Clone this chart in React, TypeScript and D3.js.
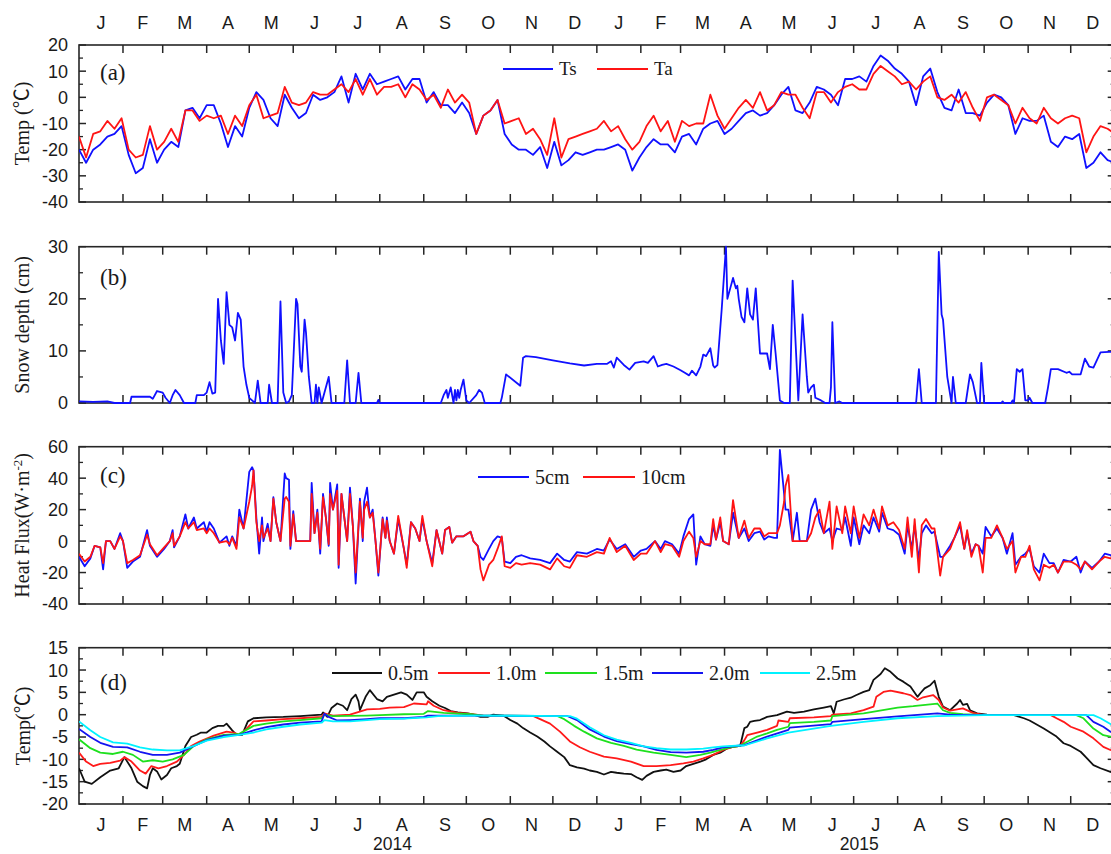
import React from 'react';
import * as d3 from 'd3';

// ---------- data ----------
// (a) daily surface (Ts) and air (Ta) temperature, sampled every 5 days from 1 Jan 2014
const tempStep = 5;
const tsValues = [
  -20, -25, -20, -18, -15, -14, -11, -22, -29, -27,
  -16, -25, -20, -17, -19, -5, -4, -8, -3, -3,
  -10, -19, -11, -15, -4, 2, -1, -8, -11, 1,
  -4, -8, -6, 1, -1, 0, 2, 8, -2, 9,
  3, 9, 5, 6, 7, 8, 3, 7, 7, -2,
  2, -3, -3, -6, -2, -6, -14, -7, -5, -1,
  -14, -18, -20, -20, -22, -19, -27, -17, -26, -24,
  -21, -22, -21, -20, -20, -19, -18, -20, -28, -23,
  -19, -16, -18, -18, -21, -15, -14, -18, -12, -10,
  -9, -14, -12, -9, -6, -5, -7, -6, -3, 1,
  4, -5, -6, -2, 4, 3, 1, -3, 7, 7,
  8, 6, 12, 16, 14, 11, 9, 6, -3, 8,
  11, 2, -4, -5, 3, -6, -6, -7, -2, 1,
  0, -3, -14, -8, -9, -9, -7, -17, -19, -15,
  -16, -14, -27, -25, -21, -24, -25,
];
const taValues = [
  -15, -23, -14, -13, -9, -12, -8, -20, -23, -22,
  -11, -20, -17, -12, -17, -5, -5, -9, -7, -8,
  -7, -14, -7, -11, -3, 1, -8, -7, -6, 4,
  -2, -3, -2, 2, 1, 1, 3, 5, 2, 7,
  1, 7, 1, 4, 4, 5, 0, 5, 3, -1,
  1, -4, 3, -2, 1, -2, -14, -7, -5, -1,
  -10, -9, -8, -14, -12, -16, -22, -8, -23, -16,
  -15, -14, -13, -12, -9, -13, -11, -16, -20, -17,
  -11, -7, -13, -9, -17, -9, -11, -10, -10, 1,
  -7, -12, -8, -4, -1, -4, 2, -5, -3, 2,
  1, 1, -4, -8, 2, 2, -2, 2, 4, 5,
  3, 3, 9, 12, 10, 8, 5, 6, 3, 6,
  8, 0, -1, 1, -2, 2, -4, -9, 0, 1,
  -1, -3, -10, -4, -8, -10, -4, -8, -10, -8,
  -7, -8, -21, -15, -11, -12, -14,
];

// (b) snow depth (cm): [day since 1 Jan 2014, depth]
const snowDepth: [number, number][] = [
  [0, 0.3], [10, 0.2], [20, 0.3], [25, 0], [36, 0], [37, 1.2], [45, 1.2], [50, 1.2], [52, 0.8], [55, 2.3],
  [59, 2], [61, 1], [64, 0], [66, 1.5], [68, 2.5], [71, 1.5], [74, 0], [82, 0], [83, 1.5], [88, 1.5],
  [90, 2], [92, 4], [94, 1.8], [96, 2], [98, 20], [100, 12], [102, 7.5], [104, 21.3], [106, 15], [108, 14.5],
  [110, 12], [112, 17.3], [114, 16], [116, 7], [118, 3.5], [120, 1], [122, 0.5], [124, 0], [126, 4.3], [128, 0],
  [133, 0], [134, 3.5], [136, 0], [140, 0], [142, 19.5], [144, 2], [146, 0], [148, 0.3], [150, 1.5], [153, 20],
  [154, 19], [156, 7], [157, 6], [159, 16], [160, 13.5], [162, 5], [164, 0], [166, 0], [167, 3.5], [168, 0],
  [169, 3], [171, 0], [176, 5], [178, 0], [187, 0], [189, 8.2], [191, 0], [195, 0], [197, 5.8], [199, 0],
  [210, 0], [211, 0.6], [212, 0], [255, 0], [257, 1.5], [259, 2.5], [260, 1], [262, 3], [264, 0], [265, 2.5],
  [266, 0.5], [267, 2.5], [268, 1], [269, 2.5], [271, 4.5], [273, 0.5], [275, 0], [280, 1.5], [282, 2.5], [284, 2],
  [286, 0], [297, 0], [298, 1], [301, 5.5], [311, 3.3], [313, 8.7], [315, 9], [322, 8.8], [334, 8.2], [346, 7.6],
  [356, 7.2], [365, 7.5], [372, 7.5], [375, 8], [377, 6.8], [379, 8.7], [384, 7.3], [388, 6.4], [392, 7.7], [398, 8],
  [401, 7.7], [405, 9], [408, 7], [411, 7.3], [414, 7.5], [419, 7], [424, 6.3], [427, 5.8], [430, 5.3], [432, 6.2],
  [435, 5.3], [438, 7], [440, 9.3], [442, 9], [445, 10.5], [447, 7.2], [448, 6.8], [450, 7.3], [453, 18], [456, 30],
  [457, 20], [459, 22], [461, 24], [462, 23], [463, 22], [464, 22.5], [465, 20], [467, 16.5], [469, 15.5], [471, 22],
  [473, 17], [475, 16], [477, 22], [480, 9.5], [483, 9.5], [485, 9.5], [487, 6.5], [489, 15], [491, 9.5], [494, 0.5],
  [497, 0], [501, 0], [503, 23.5], [507, 0.5], [510, 17], [513, 5], [514, 2], [516, 3], [518, 3.5], [519, 1],
  [523, 0.5], [526, 0], [529, 0], [530, 3], [531, 15.5], [533, 0], [536, 0.3], [538, 0], [590, 0], [592, 6.5],
  [594, 0], [604, 0], [606, 29], [608, 17], [609, 16], [612, 5], [615, 0], [616, 5], [618, 0], [625, 0],
  [628, 5.5], [630, 4], [633, 0], [635, 0], [636, 7.7], [638, 0], [650, 0], [651, 0.3], [652, 0], [657, 0],
  [658, 0.5], [659, 0], [661, 6.5], [663, 6], [665, 6.5], [667, 0.5], [669, 0.5], [670, 1], [672, 0], [681, 0],
  [683, 3], [685, 6.5], [690, 6.5], [696, 5.8], [698, 6], [700, 5.5], [706, 5.5], [709, 8.5], [712, 7], [715, 6.8],
  [720, 9.7], [726, 9.8], [730, 9.8],
];

// (c) soil heat flux (W·m-2) at 5 cm and 10 cm
const fluxDays = [
  0, 4, 8, 11, 15, 17, 19, 22, 25, 29, 31, 34, 38, 43, 48, 50, 55, 60, 64, 66,
  67, 71, 75, 77, 81, 83, 88, 90, 92, 95, 99, 104, 106, 108, 111, 113, 116, 120, 122, 123,
  125, 127, 129, 130, 133, 135, 137, 139, 142, 145, 146, 148, 149, 151, 153, 163, 164, 166, 168, 170,
  172, 174, 176, 177, 179, 182, 183, 185, 189, 191, 193, 195, 198, 200, 201, 203, 205, 207, 209, 211,
  214, 216, 217, 219, 222, 225, 229, 231, 234, 237, 240, 242, 245, 249, 252, 256, 258, 261, 263, 266,
  271, 276, 278, 281, 283, 285, 289, 292, 295, 298, 300, 304, 308, 312, 318, 325, 332, 337, 342, 346,
  351, 358, 365, 370, 374, 379, 385, 391, 396, 400, 406, 410, 413, 418, 423, 426, 430, 433, 435, 438,
  441, 445, 447, 449, 452, 454, 458, 461, 465, 469, 472, 476, 480, 483, 486, 490, 492, 494, 497, 498,
  500, 503, 506, 508, 513, 516, 519, 522, 525, 529, 531, 534, 538, 540, 544, 546, 550, 553, 557, 560,
  564, 566, 570, 574, 578, 582, 584, 587, 589, 592, 594, 597, 601, 603, 607, 609, 614, 617, 621, 624,
  626, 629, 632, 634, 637, 639, 643, 647, 651, 654, 658, 660, 664, 667, 670, 673, 677, 680, 684, 687,
  690, 694, 699, 703, 706, 709, 714, 719, 723, 727, 730,
];
const flux5cm = [
  -10, -16, -11, -3, -4, -18, 0, 0, -5, 5, 0, -17, -13, -10, 7, -3, -10, -5, 0, 7,
  -4, 3, 17, 8, 15, 8, 12, 6, 12, 8, -1, 3, -3, 3, -3, 20, 8, 44, 47, 45,
  15, -8, 15, 0, 11, 0, 28, 12, 0, 43, 40, 39, -5, 19, 0, 0, 37, 5, 20, -8,
  30, 15, -3, 37, 20, 36, -17, 30, 0, 34, 10, -27, 27, 0, 25, 34, 15, 20, 0, -22,
  15, 2, 15, 0, -8, 14, -5, -15, 12, 8, 0, 14, 0, -14, 7, -8, 7, 9, -1, 3,
  3, 6, 0, -3, -10, -12, -5, 0, 3, 2, -13, -14, -10, -9, -11, -12, -14, -8, -12, -13,
  -7, -8, -5, -6, 1, -5, -2, -10, -6, -5, 0, -5, 0, -2, -8, 3, 14, 17, -15, 3,
  -2, -3, 10, 1, 12, 0, -2, 18, 2, 8, 0, 5, 6, 1, 3, 2, 2, 58, 30, 20,
  20, 0, 18, 0, 0, 20, 27, 12, 5, 8, 0, 8, 7, 15, -3, 15, -2, 10, 5, 15,
  6, 18, 8, 7, 4, -8, 10, -5, 10, -12, 5, 10, 5, 6, -10, -10, -3, 2, 10, -5,
  5, -8, -2, -3, -8, 9, 3, 8, 2, -8, 5, -15, -10, -8, -5, -16, -20, -8, -14, -14,
  -20, -12, -13, -10, -20, -13, -17, -13, -8, -9, -9,
];
const flux10cm = [
  -8, -13, -10, -3, -4, -14, 0, 0, -5, 3, 0, -14, -12, -9, 4, -2, -9, -4, 0, 5,
  -3, 3, 12, 8, 12, 7, 8, 5, 8, 5, -1, 0, -2, 2, -5, 15, 8, 25, 35, 45,
  12, 0, 10, 2, 8, 0, 27, 12, 0, 27, 28, 25, -3, 17, 0, 0, 30, 5, 18, -5,
  28, 15, -2, 30, 20, 32, -15, 30, 0, 30, 10, -20, 25, 2, 20, 25, 15, 18, 0, -20,
  14, 2, 13, 0, -8, 16, -5, -17, 12, 8, 0, 16, 0, -16, 7, -8, 7, 9, -1, 3,
  3, 6, 0, -3, -18, -25, -15, -12, -5, 3, -16, -17, -14, -15, -14, -15, -18, -11, -16, -17,
  -9, -10, -7, -8, 2, -7, -3, -12, -8, -8, 0, -7, -2, -3, -10, 0, 6, 2, -10, 0,
  -2, -2, 14, 1, 15, 0, -2, 26, 2, 13, 2, 8, 8, 3, 5, 5, 5, 10, 25, 35,
  42, 0, 0, 0, 0, 5, 15, 20, 5, 25, -5, 22, 5, 22, 5, 22, 2, 17, 10, 20,
  8, 22, 10, 12, 7, -5, 15, -10, 14, -20, 10, 14, 8, 8, -22, -10, -5, 2, 12, -5,
  7, -10, -2, -3, -20, 2, 2, 10, 2, -5, 0, -20, -10, -10, -3, -18, -25, -15, -17, -15,
  -20, -13, -13, -15, -18, -13, -18, -13, -10, -11, -10,
];

// (d) soil temperature at depth: [day since 1 Jan 2014, °C]
const soil05m: [number, number][] = [
  [0, -12], [4, -15], [9, -15.5], [15, -14], [22, -12.5], [28, -12], [32, -9.5], [37, -12], [41, -15], [45, -16],
  [48, -16.5], [50, -13.5], [52, -12], [55, -12.7], [58, -14.5], [62, -13.5], [65, -12], [69, -11.5], [71, -11], [75, -7],
  [79, -5], [83, -4.5], [86, -4], [90, -4], [94, -3], [98, -2.5], [102, -2.5], [104, -2], [108, -3.5], [111, -4.5],
  [115, -4.5], [117, -3], [119, -1.5], [123, -0.8], [132, -0.6], [144, -0.5], [156, -0.3], [171, 0], [172, 0.5], [175, -0.5],
  [178, 1.5], [182, 2.5], [186, 2], [189, 1], [192, 3.5], [195, 4.5], [197, 3], [198, 1], [202, 4], [205, 5.5],
  [210, 3.5], [214, 3], [217, 4], [222, 4.5], [227, 5], [231, 4.5], [235, 3.3], [238, 5], [243, 5], [245, 4],
  [249, 3], [254, 2], [258, 1.5], [262, 0.8], [267, 0.5], [274, 0.3], [278, 0], [283, -0.5], [288, -0.5], [292, 0],
  [299, -0.2], [304, -1.2], [309, -2], [313, -3], [318, -4], [323, -4.9], [328, -6], [332, -7.1], [337, -8.3], [342, -9.5],
  [346, -11.3], [351, -11.8], [356, -12.1], [360, -12.5], [365, -12.8], [370, -13.4], [375, -12.8], [379, -13], [384, -13.2], [389, -13.3],
  [393, -14], [397, -14.6], [400, -13.7], [405, -12.8], [410, -12.5], [414, -12.3], [419, -12.8], [424, -12.5], [428, -11.5], [433, -11],
  [438, -10.5], [442, -10], [447, -9], [452, -8.5], [457, -7.5], [461, -7.2], [466, -7], [469, -3], [471, -2.7], [473, -1.6],
  [476, -1.4], [480, -1.2], [485, -0.5], [492, -0.1], [499, 0.7], [504, 0.4], [511, 0.7], [518, 1.2], [525, 1.6], [530, 1.9],
  [532, 0.3], [534, 2.9], [539, 3.4], [544, 3.8], [548, 4.4], [553, 5.1], [557, 5.5], [560, 7.8], [565, 9.1], [568, 10.4],
  [572, 9.6], [577, 8.1], [581, 7.4], [586, 6.3], [591, 4], [593, 4.8], [596, 5.9], [600, 6.6], [603, 7.6], [606, 4],
  [609, 1.8], [614, 1], [619, 2.5], [621, 3.3], [623, 2.2], [626, 2.4], [628, 1], [633, 0.3], [640, 0], [659, -0.1],
  [666, -0.8], [670, -1.3], [680, -3.1], [689, -4.9], [694, -6.4], [699, -7], [706, -8.3], [710, -9.6], [715, -11.3], [720, -12],
  [727, -12.8], [730, -13],
];
const soil10m: [number, number][] = [
  [0, -8.5], [5, -10.5], [10, -11.5], [15, -11], [22, -10.8], [29, -10.3], [32, -9.5], [37, -10.5], [43, -12.5], [47, -13.2],
  [51, -11.5], [56, -12], [62, -11.5], [69, -10.5], [74, -9], [79, -7], [85, -6], [95, -4.7], [104, -3.8], [109, -4],
  [113, -4.5], [117, -3.5], [123, -1.5], [132, -1.3], [144, -1], [156, -0.8], [171, -0.5], [173, 0.3], [179, -0.2], [191, 0],
  [203, 1.2], [212, 1.3], [219, 1.6], [229, 1.7], [236, 2.5], [245, 2.3], [246, 3], [250, 2], [257, 1], [267, 0.4],
  [276, 0.2], [285, -0.2], [320, -0.3], [325, -1], [332, -2], [339, -3.8], [346, -6], [353, -7.3], [360, -8.3], [370, -9.4],
  [379, -9.8], [389, -10.5], [398, -11.5], [407, -11.5], [417, -11.3], [426, -10.9], [433, -10.5], [440, -9.8], [447, -9], [454, -7.9],
  [461, -7.2], [466, -7], [469, -5.7], [471, -4.6], [478, -4], [485, -3.4], [492, -2.5], [493, -1.3], [500, -1.6], [501, -0.8],
  [518, -0.6], [530, -0.3], [531, 0], [544, 0.3], [553, 1], [560, 1.8], [562, 4], [567, 5.1], [572, 5.4], [581, 4.8],
  [586, 4.4], [591, 3.3], [595, 3.9], [602, 4.4], [606, 3.3], [609, 1.6], [614, 0.9], [623, 1.4], [630, 0.4], [638, -0.1],
  [685, -0.1], [689, -0.8], [694, -1.6], [699, -2.7], [708, -3.8], [715, -5.3], [722, -7.2], [727, -7.9], [730, -8.2],
];
const soil15m: [number, number][] = [
  [0, -5.5], [8, -7.5], [15, -8.5], [24, -8.8], [31, -8.3], [38, -9], [45, -10.5], [52, -10.2], [59, -10.5], [66, -10],
  [74, -9], [81, -7], [90, -5.5], [102, -4.5], [113, -4.3], [123, -2.5], [132, -2], [144, -1.5], [156, -1.2], [171, -0.8],
  [173, 0], [179, -0.3], [203, -0.2], [212, -0.1], [229, 0.1], [243, 0.2], [246, 0.8], [257, 0.4], [276, 0.1], [285, -0.2],
  [337, -0.3], [342, -1], [349, -2.5], [356, -3.8], [365, -5.3], [375, -6.3], [384, -7], [393, -7.8], [405, -8.5], [417, -9],
  [428, -9.5], [438, -9], [445, -8.5], [452, -7.9], [459, -7.3], [466, -7], [469, -6.4], [478, -4.9], [485, -4.2], [492, -3.4],
  [500, -2.7], [501, -1.9], [518, -1.6], [530, -1.3], [531, -0.3], [553, 0.3], [577, 1.6], [588, 1.9], [605, 2.5], [609, 1],
  [614, 0.4], [623, 0.1], [638, -0.1], [703, -0.1], [708, -0.8], [715, -3.1], [722, -4.6], [727, -4.9], [730, -5.2],
];
const soil20m: [number, number][] = [
  [0, -3.2], [8, -5], [15, -6.3], [24, -7.2], [34, -7.3], [43, -8.3], [52, -9], [62, -9], [71, -8.5], [81, -7],
  [90, -5.7], [102, -4.7], [113, -4.5], [123, -3.5], [132, -2.8], [144, -2.2], [156, -1.8], [171, -1.5], [173, 0.2], [176, -0.5],
  [182, -1.3], [191, -1.2], [203, -1], [212, -0.8], [229, -0.8], [243, -0.5], [246, -0.2], [276, -0.2], [344, -0.3], [351, -1.2],
  [360, -3.3], [370, -4.9], [379, -5.9], [389, -6.6], [398, -7.1], [407, -7.9], [417, -8.4], [428, -8.5], [440, -8.3], [447, -7.9],
  [454, -7.3], [466, -6.9], [469, -6.8], [485, -4.9], [500, -3.4], [501, -2.9], [530, -2.1], [531, -1.6], [553, -1], [577, -0.4],
  [605, 0.3], [614, 0], [638, -0.1], [710, -0.1], [715, -1.6], [722, -2.7], [727, -3.8], [730, -4.3],
];
const soil25m: [number, number][] = [
  [0, -1.5], [8, -3.5], [15, -5], [24, -6.2], [34, -6.5], [43, -7.3], [52, -7.8], [62, -8], [71, -8], [81, -7],
  [90, -5.8], [102, -5], [113, -4.5], [123, -4], [132, -3.3], [144, -2.7], [156, -2.2], [171, -1.8], [173, -1.2], [179, -1.5],
  [191, -1.5], [203, -1.2], [212, -1], [229, -0.9], [245, -0.6], [253, -0.3], [276, -0.2], [346, -0.3], [351, -0.9], [360, -2.8],
  [370, -4.6], [379, -5.6], [389, -6.3], [398, -7.1], [407, -7.5], [417, -7.8], [428, -7.8], [440, -7.6], [447, -7.3], [454, -7.1],
  [466, -6.9], [469, -6.9], [485, -5.3], [500, -4], [530, -2.5], [553, -1.6], [577, -0.8], [605, -0.3], [638, -0.1], [715, -0.1],
  [720, -0.8], [727, -2.1], [730, -2.6],
];

const monthLetters = ['J', 'F', 'M', 'A', 'M', 'J', 'J', 'A', 'S', 'O', 'N', 'D'];
const yearLabels: [string, number][] = [['2014', 221], ['2015', 550]];

// ---------- layout ----------
const W = 1111;
const H = 854;
const LEFT = 79;
const RIGHT = 1114.7;
const START = Date.UTC(2014, 0, 1);
const END = Date.UTC(2016, 0, 1);
const SANS = "'Liberation Sans', Arial, sans-serif";
const SERIF = "'Liberation Serif', 'Times New Roman', 'Noto Sans CJK SC', serif";
const AXIS = '#262626';
const TICK_FONT = 18;

const x = d3.scaleUtc().domain([new Date(START), new Date(END)]).range([LEFT, RIGHT]);
const dayX = (d: number) => x(new Date(START + d * 86400000));
const months = d3.utcMonth.range(new Date(START), new Date(END));

type Series = { pts: [number, number][]; color: string };
type Panel = {
  top: number;
  bottom: number;
  domain: [number, number];
  major: number;
  minor: number;
  title: React.ReactNode;
  titleX: number;
  tag: string;
  tagY: number;
  series: Series[];
};

const zip = (days: number[], vals: number[]): [number, number][] =>
  days.map((d, i) => [d, vals[i]] as [number, number]);
const tempDays = tsValues.map((_, i) => i * tempStep);

const BLUE = '#1010ff';
const RED = '#ff1414';

const panels: Panel[] = [
  {
    top: 45, bottom: 202, domain: [-40, 20], major: 10, minor: 5,
    title: 'Temp (℃)', titleX: 22, tag: '(a)', tagY: 80,
    series: [
      { pts: zip(tempDays, tsValues), color: BLUE },
      { pts: zip(tempDays, taValues), color: RED },
    ],
  },
  {
    top: 246.7, bottom: 403, domain: [0, 30], major: 10, minor: 5,
    title: 'Snow depth (cm)', titleX: 22, tag: '(b)', tagY: 285,
    series: [{ pts: snowDepth, color: BLUE }],
  },
  {
    top: 446.7, bottom: 604, domain: [-40, 60], major: 20, minor: 10,
    title: (
      <>
        Heat Flux(W·m
        <tspan dy={-7} fontSize={13}>-2</tspan>
        <tspan dy={7}>)</tspan>
      </>
    ),
    titleX: 22, tag: '(c)', tagY: 483,
    series: [
      { pts: zip(fluxDays, flux5cm), color: BLUE },
      { pts: zip(fluxDays, flux10cm), color: RED },
    ],
  },
  {
    top: 647.7, bottom: 804, domain: [-20, 15], major: 5, minor: 2.5,
    title: 'Temp(℃)', titleX: 23, tag: '(d)', tagY: 690,
    series: [
      { pts: soil05m, color: '#111111' },
      { pts: soil10m, color: '#ff1a1a' },
      { pts: soil15m, color: '#1ee01e' },
      { pts: soil20m, color: '#1414f0' },
      { pts: soil25m, color: '#00f2ff' },
    ],
  },
];

type LegendItem = { x1: number; x2: number; color: string; label: string };
const legends: { y: number; size: number; items: LegendItem[] }[] = [
  {
    y: 69, size: 19,
    items: [
      { x1: 503, x2: 553, color: BLUE, label: 'Ts' },
      { x1: 597, x2: 648, color: RED, label: 'Ta' },
    ],
  },
  {
    y: 477, size: 20,
    items: [
      { x1: 478, x2: 529, color: BLUE, label: '5cm' },
      { x1: 583, x2: 635, color: RED, label: '10cm' },
    ],
  },
  {
    y: 673, size: 20,
    items: [
      { x1: 332, x2: 382, color: '#111111', label: '0.5m' },
      { x1: 438, x2: 490, color: '#ff1a1a', label: '1.0m' },
      { x1: 545, x2: 597, color: '#1ee01e', label: '1.5m' },
      { x1: 652, x2: 703, color: '#1414f0', label: '2.0m' },
      { x1: 760, x2: 810, color: '#00f2ff', label: '2.5m' },
    ],
  },
];

function PanelView({ p, index }: { p: Panel; index: number }) {
  const y = d3.scaleLinear().domain(p.domain).range([p.bottom, p.top]);
  const line = d3
    .line<[number, number]>()
    .x((d) => dayX(d[0]))
    .y((d) => y(d[1]));
  const majors = d3.range(p.domain[0], p.domain[1] + 1e-6, p.major);
  const minors = d3
    .range(p.domain[0], p.domain[1] + 1e-6, p.minor)
    .filter((v) => !majors.some((m) => Math.abs(m - v) < 1e-6));
  const mid = (p.top + p.bottom) / 2;
  const clipId = `clip-${index}`;
  return (
    <g>
      <defs>
        <clipPath id={clipId}>
          <rect x={LEFT} y={p.top - 2} width={RIGHT - LEFT} height={p.bottom - p.top + 4} />
        </clipPath>
      </defs>
      {/* frame */}
      <rect x={LEFT} y={p.top} width={RIGHT - LEFT} height={p.bottom - p.top} fill="none" stroke={AXIS} strokeWidth={1.6} />
      {/* month ticks, top and bottom */}
      {months.slice(1).map((m, i) => (
        <g key={i}>
          <line x1={x(m)} x2={x(m)} y1={p.top} y2={p.top + 8} stroke={AXIS} strokeWidth={1.5} />
          <line x1={x(m)} x2={x(m)} y1={p.bottom} y2={p.bottom - 8} stroke={AXIS} strokeWidth={1.5} />
        </g>
      ))}
      {/* value ticks, left and right */}
      {majors.map((v) => (
        <g key={`M${v}`}>
          <line x1={LEFT} x2={LEFT + 7} y1={y(v)} y2={y(v)} stroke={AXIS} strokeWidth={1.5} />
          <line x1={RIGHT} x2={RIGHT - 7} y1={y(v)} y2={y(v)} stroke={AXIS} strokeWidth={1.5} />
          <text x={LEFT - 11} y={y(v)} dy="0.36em" textAnchor="end" fontFamily={SANS} fontSize={TICK_FONT} fill="#1a1a1a">
            {v}
          </text>
        </g>
      ))}
      {minors.map((v) => (
        <g key={`m${v}`}>
          <line x1={LEFT} x2={LEFT + 4} y1={y(v)} y2={y(v)} stroke={AXIS} strokeWidth={1.3} />
          <line x1={RIGHT} x2={RIGHT - 4} y1={y(v)} y2={y(v)} stroke={AXIS} strokeWidth={1.3} />
        </g>
      ))}
      {/* data */}
      <g clipPath={`url(#${clipId})`}>
        {p.series.map((s, i) => (
          <path key={i} d={line(s.pts) ?? ''} fill="none" stroke={s.color} strokeWidth={1.8} strokeLinejoin="round" />
        ))}
      </g>
      {/* panel tag and axis title */}
      <text x={100} y={p.tagY} fontFamily={SERIF} fontSize={23} fill="#1a1a1a">
        {p.tag}
      </text>
      <text
        transform={`translate(${p.titleX},${mid}) rotate(-90)`}
        textAnchor="middle"
        dy="0.35em"
        fontFamily={SERIF}
        fontSize={20}
        fill="#1a1a1a"
      >
        {p.title}
      </text>
    </g>
  );
}

export default function App() {
  const monthCenters = months.map((m) => {
    const next = d3.utcMonth.offset(m, 1);
    return ((x(m) as number) + (x(next) as number)) / 2;
  });
  return (
    <svg
      width={W}
      height={H}
      viewBox={`0 0 ${W} ${H}`}
      style={{ position: 'absolute', left: 0, top: 0, background: '#fff', overflow: 'hidden' }}
    >
      <rect width={W} height={H} fill="#fff" />
      {panels.map((p, i) => (
        <PanelView key={i} p={p} index={i} />
      ))}
      {/* month letters above the top panel and below the bottom panel */}
      {monthCenters.map((cx, i) => (
        <g key={i}>
          <text x={cx} y={29} textAnchor="middle" fontFamily={SANS} fontSize={TICK_FONT} fill="#1a1a1a">
            {monthLetters[i % 12]}
          </text>
          <text x={cx} y={831} textAnchor="middle" fontFamily={SANS} fontSize={TICK_FONT} fill="#1a1a1a">
            {monthLetters[i % 12]}
          </text>
        </g>
      ))}
      {yearLabels.map(([label, day]) => (
        <text key={label} x={dayX(day)} y={850} textAnchor="middle" fontFamily={SANS} fontSize={17.5} fill="#1a1a1a">
          {label}
        </text>
      ))}
      {/* legends */}
      {legends.map((lg, li) => (
        <g key={li}>
          {lg.items.map((it) => (
            <g key={it.label}>
              <line x1={it.x1} x2={it.x2} y1={lg.y} y2={lg.y} stroke={it.color} strokeWidth={2} />
              <text x={it.x2 + 6} y={lg.y} dy="0.33em" fontFamily={SERIF} fontSize={lg.size} fill="#1a1a1a">
                {it.label}
              </text>
            </g>
          ))}
        </g>
      ))}
    </svg>
  );
}
